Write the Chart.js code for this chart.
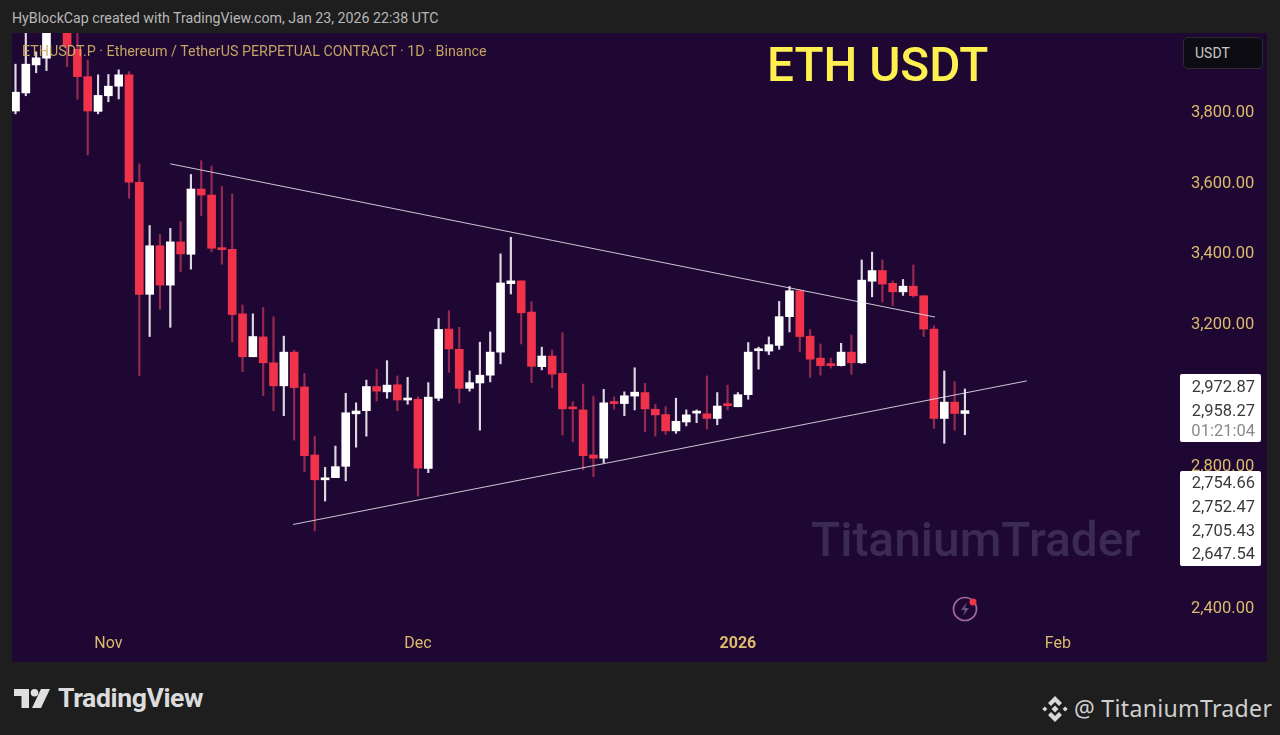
<!DOCTYPE html>
<html><head><meta charset="utf-8">
<script src="https://cdn.jsdelivr.net/npm/chart.js@4"></script>
<style>
html,body{margin:0;padding:0;background:#1e1e1e;width:1280px;height:735px;overflow:hidden;font-family:Roboto,sans-serif}
.t{position:absolute;white-space:nowrap;line-height:1}
#panel{position:absolute;left:12px;top:33px;width:1255px;height:629px;background:#1f0734}
#c{position:absolute;left:12px;top:33px;width:1255px;height:629px}
.box{position:absolute;left:1180px;width:81px;background:#fff;border-radius:2px}
</style></head><body>
<div id="panel"></div>
<div class="t" style="left:12px;top:11px;font-size:14.2px;color:#b8b8b8">HyBlockCap created with TradingView.com, Jan 23, 2026 22:38 UTC</div>
<canvas id="c" width="1255" height="629"></canvas>
<div class="t" style="left:22px;top:44px;font-size:14.3px;color:#d2b068;opacity:.92">ETHUSDT.P · Ethereum / TetherUS PERPETUAL CONTRACT · 1D · Binance</div>
<div class="t" style="left:767px;top:42px;font-size:47.7px;font-weight:500;color:#fff04f">ETH USDT</div>
<div style="position:absolute;left:1183px;top:37px;width:78px;height:30px;background:#0d0c12;border:1px solid #2d2a33;border-radius:5px"></div>
<div class="t" style="left:1195px;top:46px;font-size:14px;color:#c8c8c8">USDT</div>
<div class="t" style="left:811px;top:517px;font-size:47.9px;font-weight:500;color:#3b2b50">TitaniumTrader</div>
<svg style="position:absolute;left:950px;top:594px" width="32" height="30" viewBox="0 0 32 30"><circle cx="15" cy="15" r="11.5" fill="none" stroke="#a0699f" stroke-width="1.7"/><path d="M17 8l-6 8h4l-2 6 6-8h-4z" fill="#6d4f80"/><circle cx="23" cy="8" r="3.5" fill="#f23645"/></svg>
<div class="box" style="top:374px;height:68px"></div>
<div class="box" style="top:471px;height:95px"></div>
<div id="labels"></div>
<svg style="position:absolute;left:14px;top:689px" width="36" height="19" viewBox="0 0 36 19" fill="#e0e0e0"><path d="M15 0H0v7h7.5v12H15z"/><circle cx="20.5" cy="3.8" r="3.8"/><path d="M27 0h9l-9 19h-9z"/></svg>
<div class="t" style="left:58px;top:685px;font-size:26.6px;font-weight:700;color:#dcdcdc;letter-spacing:-.4px">TradingView</div>
<svg style="position:absolute;left:1041px;top:695px" width="28" height="28" viewBox="0 0 28 28" fill="#d8d8d8"><path d="M14 1l7 7-3 3-4-4-4 4-3-3zM14 27l7-7-3-3-4 4-4-4-3 3z"/><path d="M14 10.5l3.5 3.500-3.500 3.500-3.500-3.500zM3.800 11.500l2.500 2.500-2.500 2.500-2.500-2.500zM24.200 11.500l2.500 2.500-2.500 2.500-2.500-2.500z"/></svg>
<div class="t" style="left:1074px;top:697px;font-size:23.1px;color:#cfcfcf;font-family:'Noto Sans',sans-serif;letter-spacing:.3px">@ TitaniumTrader</div>
<script>
const xTickIndex=[9,39,70,101];
const xTickLabels=["Nov","Dec","2026","Feb"];
const yTicks=[3800,3600,3400,3200,3000,2800,2600,2400];
const opens=[3800,3851,3930,3949,4130,4140,3974,3897,3799,3843,3870,3902,3599,3283,3420,3309,3431,3396,3580,3563,3414,3410,3228,3107,3163,3090,3025,3120,3022,2830,2760,2766,2798,2946,2955,3023,3008,3028,2985,2987,2792,2990,3185,3128,3018,3033,3055,3120,3313,3321,3233,3079,3109,3060,2962,2957,2830,2821,2977,2975,2996,3006,2959,2944,2898,2923,2948,2946,2933,2972,2966,3000,3124,3123,3139,3220,3293,3165,3103,3085,3082,3120,3090,3320,3350,3314,3290,3306,3279,3185,2933,2979,2947];
const highs=[3932,4030,3967,4080,4160,4160,4025,3944,3902,3903,3916,3911,3651,3477,3452,3469,3488,3621,3660,3645,3587,3566,3253,3228,3246,3220,3165,3126,3060,2882,2795,2855,3004,2977,3041,3072,3096,3053,3049,2994,3034,3215,3237,3190,3067,3148,3177,3397,3444,3321,3262,3134,3126,3175,2980,3030,2996,3015,2994,3008,3076,3032,2973,2966,2990,2957,2957,3053,3006,3027,3006,3147,3134,3163,3263,3305,3297,3184,3143,3103,3145,3168,3380,3402,3380,3321,3325,3366,3279,3194,3067,3037,3016];
const lows=[3792,3843,3908,3914,4040,3925,3833,3676,3792,3826,3834,3554,3054,3164,3241,3190,3347,3354,3505,3403,3368,3149,3065,3107,2997,2955,2941,2872,2783,2616,2700,2766,2757,2852,2883,2982,2990,2955,2973,2714,2780,2983,3063,2976,3010,2900,3036,3087,3284,3143,3034,3070,3020,2886,2867,2788,2769,2808,2959,2941,2957,2896,2883,2888,2891,2912,2921,2903,2915,2957,2966,2987,3072,3113,3128,3177,3121,3049,3055,3075,3081,3057,3088,3276,3261,3251,3280,3275,3164,2905,2863,2900,2887];
const closes=[3853,3932,3950,4060,4060,3983,3897,3800,3844,3870,3902,3599,3283,3420,3309,3431,3397,3580,3563,3413,3409,3226,3107,3164,3090,3025,3120,3020,2828,2760,2765,2797,2949,2954,3023,3010,3027,2985,2988,2793,2993,3184,3129,3018,3034,3055,3120,3315,3321,3231,3080,3109,3058,2960,2960,2828,2821,2977,2975,2997,3007,2960,2943,2898,2925,2943,2951,2933,2968,2969,3000,3120,3127,3141,3220,3293,3164,3100,3082,3082,3120,3090,3323,3350,3312,3290,3306,3279,3185,2933,2979,2947,2955];
const upperTrend=[{x:15,y:3651},{x:89.1,y:3219}];
const lowerTrend=[{x:26.9,y:2634},{x:98,y:3039}];
const upperPriceLabels=["2,972.87","2,958.27","01:21:04"];
const lowerPriceLabels=["2,754.66","2,752.47","2,705.43","2,647.54"];

const lab=document.getElementById('labels');
function addLabels(arr,tops,dim){arr.forEach((s,i)=>{const d=document.createElement('div');d.className='t';d.textContent=s;d.style.cssText=`right:${1280-1255}px;top:${tops[i]}px;font-size:16.5px;color:${dim===i?'#8a8a8a':'#3a3a3a'}`;lab.appendChild(d);});}
addLabels(upperPriceLabels,[379,403,423],2);
addLabels(lowerPriceLabels,[475,499,523,546],-1);

const RED='#f0334a',RW='#96294f',WH='#ffffff',WW='#dcd9e2';
const idx=opens.map((_,i)=>i);
const up=idx.map(i=>closes[i]>=opens[i]);
new Chart(document.getElementById('c'),{
 type:'bar',
 data:{datasets:[
  {label:'wick',data:idx.map(i=>({x:i,y:[lows[i],highs[i]]})),backgroundColor:up.map(u=>u?WW:RW),barThickness:1.5,grouped:false,order:3},
  {label:'body',data:idx.map(i=>({x:i,y:[Math.min(opens[i],closes[i]),Math.max(opens[i],closes[i])]})),backgroundColor:up.map(u=>u?WH:RED),barThickness:8,minBarLength:2,grouped:false,order:2},
  {type:'line',label:'upper',data:upperTrend,borderColor:'rgba(235,232,240,.85)',borderWidth:1,pointRadius:0,order:1},
  {type:'line',label:'lower',data:lowerTrend,borderColor:'rgba(235,232,240,.85)',borderWidth:1,pointRadius:0,order:1}
 ]},
 options:{
  responsive:false,animation:false,devicePixelRatio:1,
  layout:{padding:0},
  plugins:{legend:{display:false},tooltip:{enabled:false}},
  scales:{
   x:{type:'linear',offset:false,min:-0.339,max:112.84,grid:{display:false,drawTicks:false},border:{display:false},
    afterBuildTicks(s){s.ticks=xTickIndex.map(v=>({value:v}));},
    afterFit(s){s.height=32;s.paddingLeft=0;s.paddingRight=0;},
    ticks:{autoSkip:false,maxRotation:0,padding:4,color:'#dcbb6c',
     font:c=>({family:'Roboto',size:16,weight:c.index===2?'700':'400'}),
     callback:(v)=>xTickLabels[xTickIndex.indexOf(v)]}},
   y:{type:'linear',position:'right',min:2336.4,max:4020,beginAtZero:false,grid:{display:false,drawTicks:false},border:{display:false},
    afterBuildTicks(s){s.ticks=yTicks.map(v=>({value:v}));},
    afterFit(s){s.width=87;s.paddingTop=0;s.paddingBottom=0;},
    ticks:{padding:11,labelOffset:1.5,color:'#dcbb6c',font:{family:'Roboto',size:16.5},
     callback:v=>v.toLocaleString('en-US',{minimumFractionDigits:2,maximumFractionDigits:2})}}
  }
 }
});
</script>
</body></html>
